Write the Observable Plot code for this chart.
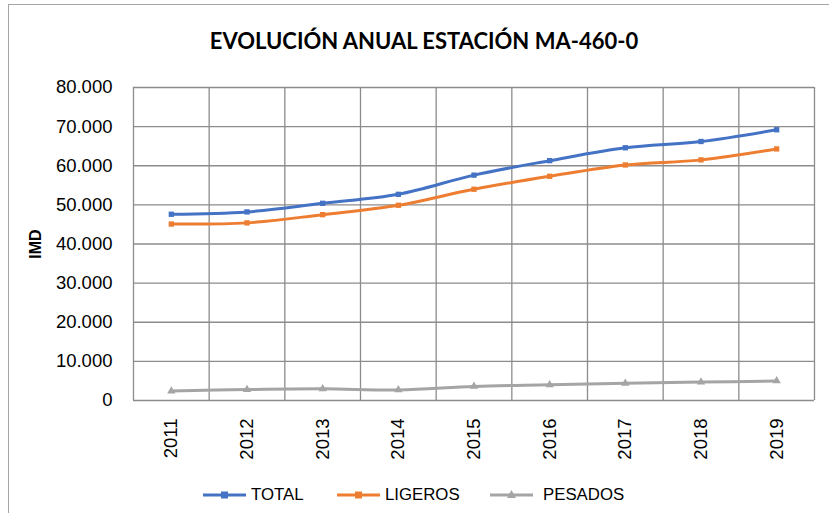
<!DOCTYPE html>
<html>
<head>
<meta charset="utf-8">
<script src="https://cdn.jsdelivr.net/npm/d3@7"></script>
<script src="https://cdn.jsdelivr.net/npm/@observablehq/plot@0.6"></script>
<style>
  html, body { margin: 0; padding: 0; background: #fff; }
  #wrap { position: relative; width: 829px; height: 513px; overflow: hidden; background: #fff; }
  #border { position: absolute; left: 8px; top: 4px; width: 900px; height: 600px; border: 1px solid #a6a6a6; box-sizing: border-box; }
  #chart { position: absolute; left: 0; top: 0; }
  #title { position: absolute; left: 0; width: 848px; top: 27px; text-align: center; font-family: Lato, sans-serif; font-weight: bold; font-size: 22px; color: #000; }
  #legend { position: absolute; top: 484px; left: 0; width: 829px; height: 22px; font-family: "Liberation Sans", Arial, sans-serif; font-size: 16.8px; color: #000; }
  .item { position: absolute; top: 0; display: flex; align-items: center; height: 22px; }
</style>
</head>
<body>
<div id="wrap">
  <div id="border"></div>
  <div id="chart"></div>
  <div id="title">EVOLUCIÓN ANUAL ESTACIÓN MA-460-0</div>
  <div id="legend"></div>
</div>
<script>
const years = [2011, 2012, 2013, 2014, 2015, 2016, 2017, 2018, 2019];
const total = [47600, 48200, 50400, 52700, 57600, 61300, 64600, 66200, 69200];
const ligeros = [45100, 45400, 47500, 49900, 54000, 57300, 60200, 61500, 64300];
const pesados = [2400, 2800, 3000, 2700, 3600, 4000, 4400, 4700, 5000];
const seriesNames = ["TOTAL", "LIGEROS", "PESADOS"];
const seriesColors = ["#4472C4", "#ED7D31", "#A5A5A5"];
const seriesSymbols = ["square", "square", "triangle"];
const yTicks = [0, 10000, 20000, 30000, 40000, 50000, 60000, 70000, 80000];

const values = [total, ligeros, pesados];
const rows = [];
seriesNames.forEach((s, i) => years.forEach((y, j) => rows.push({serie: s, year: y, value: values[i][j]})));

const es = d3.formatLocale({decimal: ",", thousands: ".", grouping: [3], currency: ["", " €"]});
const fmt = es.format(",");

const edges = [years[0] - 0.5, ...years.map(y => y + 0.5)];

const chart = Plot.plot({
  width: 829,
  height: 513,
  marginLeft: 133,
  marginRight: 15,
  marginTop: 87,
  marginBottom: 113,
  style: {fontFamily: "'Liberation Sans', Arial, sans-serif", fontSize: "18.5px", color: "#000", background: "transparent"},
  x: {domain: [years[0] - 0.5, years[years.length - 1] + 0.5], label: null},
  y: {domain: [0, 80000], label: null},
  color: {domain: seriesNames, range: seriesColors},
  symbol: {domain: seriesNames, range: seriesSymbols},
  marks: [
    Plot.ruleY(yTicks, {stroke: "#8c8c8c", strokeWidth: 1.3, strokeOpacity: 1}),
    Plot.ruleX(edges, {stroke: "#8c8c8c", strokeWidth: 1.3, strokeOpacity: 1}),
    Plot.axisX({ticks: years, tickFormat: d => String(d), tickRotate: -90, tickSize: 0, tickPadding: 18, fontSize: 18.5, label: null}),
    Plot.axisY({ticks: yTicks, tickFormat: fmt, tickSize: 0, tickPadding: 21, fontSize: 18.5, label: null}),
    Plot.line(rows, {x: "year", y: "value", z: "serie", stroke: "serie", strokeWidth: 3, curve: "catmull-rom"}),
    Plot.dot(rows, {x: "year", y: "value", fill: "serie", symbol: "serie", r: d => d.serie === "PESADOS" ? 4.6 : 4.3, stroke: "none"})
  ]
});
document.getElementById("chart").appendChild(chart);

// Y axis title
const svg = d3.select(chart);
svg.append("text")
  .attr("transform", "translate(41,244) rotate(-90)")
  .attr("text-anchor", "middle")
  .attr("font-family", "'Liberation Sans', Arial, sans-serif")
  .attr("font-weight", "bold")
  .attr("font-size", 16)
  .attr("fill", "#000")
  .text("IMD");

// Legend
const legendX = [203, 337, 490];
const legendGap = [5, 5, 10];
const leg = document.getElementById("legend");
seriesNames.forEach((s, i) => {
  const item = document.createElement("div");
  item.className = "item";
  item.style.left = legendX[i] + "px";
  const sym = seriesSymbols[i] === "square"
    ? `<rect x="18" y="7.5" width="7" height="7" fill="${seriesColors[i]}"/>`
    : `<path d="M21.5,6 L26,14 L17,14 Z" fill="${seriesColors[i]}"/>`;
  item.innerHTML = `<svg width="43" height="22" style="margin-right:${legendGap[i]}px"><line x1="0" x2="43" y1="11" y2="11" stroke="${seriesColors[i]}" stroke-width="3"/>${sym}</svg><span>${s}</span>`;
  leg.appendChild(item);
});
</script>
</body>
</html>
